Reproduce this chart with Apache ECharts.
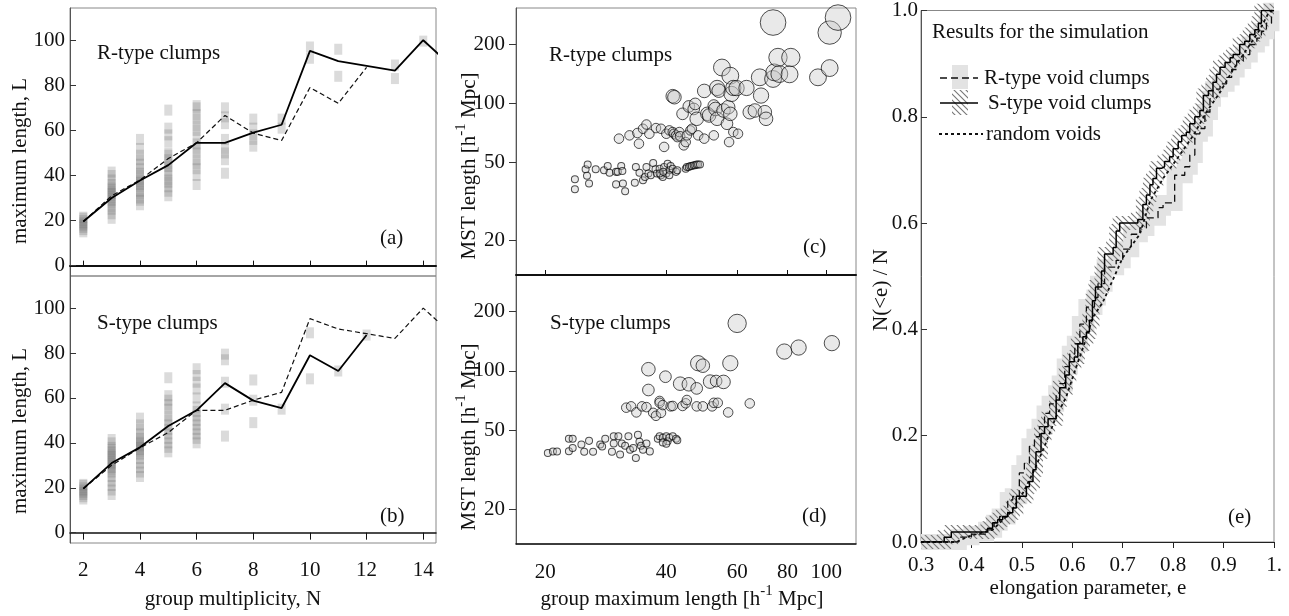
<!DOCTYPE html>
<html>
<head>
<meta charset="utf-8">
<script src="https://cdn.jsdelivr.net/npm/echarts@6/dist/echarts.min.js"></script>
<style>
  html, body { margin: 0; padding: 0; background: #fff; }
  #chart { width: 1289px; height: 616px; }
</style>
</head>
<body>
<div id="chart"></div>
<script>
// ---- panels (a), (b): max length vs multiplicity ----
const multiplicity = [2, 3, 4, 5, 6, 7, 8, 9, 10, 11, 12, 13, 14, 15]
const rTypeMedian = [19.6, 30.0, 37.8, 44.6, 54.5, 54.5, 59.0, 62.5, 95.3, 90.7, 88.6, 86.5, 100, 88.5]
const sTypeMedian = [19.6, 31.0, 38.0, 47.5, 54.5, 66.6, 58.8, 55.5, 79.0, 72.0, 88.0]
const multTicks = [2, 4, 6, 8, 10, 12, 14]
const lengthTicks = [0, 20, 40, 60, 80, 100]

// each group: [multiplicity, max length]
const rGroups = [
  [2, 15], [2, 16], [2, 17], [2, 18], [2, 19], [2, 20], [2, 21], [2, 21.5],
  [3, 21], [3, 23], [3, 25], [3, 26], [3, 28], [3, 29], [3, 30], [3, 31], [3, 32], [3, 33], [3, 34], [3, 35], [3, 36], [3, 38], [3, 40], [3, 41.5],
  [4, 27], [4, 29], [4, 30], [4, 32], [4, 33], [4, 35], [4, 36], [4, 37], [4, 38], [4, 40], [4, 41], [4, 43], [4, 45], [4, 47], [4, 49], [4, 52], [4, 56],
  [5, 31], [5, 33], [5, 35], [5, 37], [5, 38], [5, 40], [5, 42], [5, 44], [5, 45], [5, 47], [5, 49], [5, 50], [5, 55], [5, 58], [5, 61], [5, 69],
  [6, 36], [6, 40], [6, 43], [6, 45], [6, 47], [6, 50], [6, 52], [6, 54], [6, 57], [6, 60], [6, 62], [6, 65], [6, 67], [6, 70], [6, 71],
  [7, 41], [7, 47], [7, 50], [7, 52], [7, 56], [7, 63], [7, 66], [7, 70],
  [8, 53], [8, 56], [8, 58], [8, 61], [8, 65],
  [9, 61], [9, 65],
  [10, 92], [10, 97],
  [11, 84], [11, 96],
  [13, 83], [13, 89],
  [14, 99.6],
]
const sGroups = [
  [2, 15], [2, 16], [2, 17], [2, 18], [2, 19], [2, 20], [2, 21], [2, 21.5],
  [3, 17], [3, 19], [3, 21], [3, 23], [3, 25], [3, 27], [3, 28], [3, 29], [3, 30], [3, 31], [3, 32], [3, 33], [3, 34], [3, 35], [3, 36], [3, 37], [3, 38], [3, 40], [3, 41.5],
  [4, 25], [4, 27], [4, 29], [4, 31], [4, 33], [4, 35], [4, 36], [4, 37], [4, 38], [4, 39], [4, 40], [4, 41], [4, 42], [4, 44], [4, 46], [4, 48], [4, 51],
  [5, 36], [5, 38], [5, 40], [5, 42], [5, 44], [5, 46], [5, 48], [5, 50], [5, 52], [5, 55], [5, 57], [5, 59], [5, 61], [5, 69],
  [6, 40], [6, 42], [6, 44], [6, 46], [6, 48], [6, 50], [6, 52], [6, 54], [6, 56], [6, 60], [6, 64], [6, 67], [6, 70], [6, 73],
  [7, 43], [7, 55], [7, 67], [7, 77], [7, 79.5],
  [8, 49], [8, 59], [8, 68],
  [9, 55],
  [10, 68.5], [10, 89],
  [11, 72],
  [12, 88],
]

// ---- panels (c), (d): MST length vs group max length, [maxLength, mstLength, multiplicity] ----
const rClumps = [
  [23.7, 41.0, 2], [23.7, 36.5, 2], [25.2, 46.1, 2], [25.5, 48.7, 2], [25.4, 42.7, 2], [25.7, 39.0, 2], [26.7, 46.1, 2],
  [28.0, 45.5, 2], [28.6, 47.9, 2], [28.9, 44.3, 2], [30.0, 44.7, 2], [30.3, 44.7, 2], [30.9, 47.9, 2], [31.1, 45.2, 2],
  [31.2, 39.0, 2], [30.0, 38.6, 2], [31.6, 35.6, 2], [33.4, 39.3, 2], [33.6, 47.3, 2], [34.3, 44.3, 2], [35.0, 40.5, 2],
  [35.4, 42.1, 2], [35.7, 47.3, 2], [36.1, 43.8, 2], [36.6, 43.0, 2], [37.1, 49.6, 2], [37.6, 46.1, 2], [37.9, 43.8, 2],
  [38.5, 46.4, 2], [38.8, 43.0, 2], [39.2, 42.1, 2], [39.5, 47.3, 2], [40.0, 43.8, 2], [40.3, 49.2, 2], [40.7, 45.5, 2],
  [41.0, 47.9, 2], [41.5, 46.4, 2], [42.3, 44.7, 2], [42.6, 45.5, 2], [44.7, 46.4, 2], [45.0, 47.3, 2], [45.5, 47.3, 2],
  [45.9, 47.9, 2], [46.3, 47.9, 2], [46.8, 48.3, 2], [47.2, 48.3, 2], [47.6, 48.7, 2], [48.0, 48.7, 2], [48.5, 48.7, 2],
  [38.5, 43.8, 2], [39.3, 44.7, 2], [40.7, 43.0, 2],
  [30.5, 66.0, 3], [32.4, 68.6, 3], [34.2, 62.2, 3], [33.9, 70.5, 3], [35.0, 74.1, 3], [35.7, 77.9, 3], [36.3, 69.9, 3],
  [37.7, 74.7, 3], [38.8, 74.1, 3], [39.5, 59.9, 3], [40.0, 69.9, 3], [40.7, 72.7, 3], [41.5, 71.3, 3], [41.8, 69.9, 3],
  [42.3, 68.6, 3], [42.6, 67.2, 3], [43.1, 71.3, 3], [43.3, 67.9, 3], [44.2, 61.0, 3], [44.7, 63.4, 3], [45.0, 68.6, 3],
  [45.9, 72.7, 3], [46.3, 74.1, 3], [48.0, 68.6, 3], [49.7, 66.0, 3], [52.5, 68.6, 3], [57.3, 63.4, 3], [58.7, 71.3, 3],
  [60.3, 69.9, 3],
  [41.5, 108.6, 5], [41.9, 107.3, 5], [43.9, 88.3, 4], [45.5, 96.3, 4], [46.8, 93.5, 4], [47.2, 99.2, 4], [47.6, 83.3, 5],
  [49.7, 115.5, 5], [50.6, 88.3, 5], [51.1, 86.6, 5], [52.5, 97.3, 4], [53.0, 93.5, 5], [53.5, 119.6, 6], [54.0, 115.9, 5],
  [53.5, 83.3, 5], [55.5, 91.8, 5], [56.6, 78.6, 4], [57.0, 95.4, 5], [57.7, 88.3, 5], [64.5, 90.0, 5], [66.4, 91.8, 5],
  [70.3, 90.0, 5], [70.8, 83.3, 5], [68.8, 109.4, 6],
  [55.0, 152, 7], [57.7, 138.1, 7], [58.1, 111.5, 6], [58.7, 119.6, 6], [59.8, 119.4, 6], [63.3, 119.6, 6], [68.3, 135.5, 7],
  [73.7, 132.9, 7], [74.2, 143.6, 7], [75.8, 171, 8], [76.4, 140.8, 7], [81.6, 171, 8], [81.0, 140.3, 7], [95.3, 135.5, 7],
  [101.9, 151, 7],
  [73.7, 257.6, 14], [101.9, 229, 12], [106.9, 273, 14],
]
const sClumps = [
  [60.0, 173.9, 8], [78.6, 125.3, 6], [85.3, 131.3, 6], [103.2, 138.2, 6], [57.7, 109.4, 6], [48.0, 109.4, 6], [49.3, 106.3, 5],
  [36.1, 102.0, 5], [39.8, 93.5, 4], [36.1, 80.1, 4], [43.3, 86.2, 5], [45.5, 85.6, 5], [47.6, 81.6, 4], [51.4, 88.3, 5],
  [53.2, 88.9, 4], [55.5, 88.0, 5],
  [31.8, 65.2, 3], [32.7, 66.2, 3], [33.7, 61.7, 3], [34.8, 66.2, 3], [35.7, 65.6, 3], [37.1, 61.4, 3], [37.7, 59.3, 3],
  [38.5, 70.5, 3], [38.5, 69.0, 3], [38.8, 61.4, 3], [39.2, 67.2, 3], [41.0, 66.2, 3], [41.5, 66.5, 3], [43.9, 66.5, 3],
  [44.7, 68.6, 3], [45.0, 71.3, 3], [47.6, 66.2, 3], [49.3, 66.2, 3], [52.0, 66.2, 3], [52.5, 69.0, 3], [53.7, 69.0, 3],
  [57.0, 61.7, 3], [64.5, 68.5, 3],
  [20.3, 38.5, 2], [20.9, 39.1, 2], [21.4, 39.1, 2], [22.9, 45.4, 2], [23.4, 45.4, 2], [22.9, 39.3, 2], [23.4, 40.8, 2],
  [24.6, 42.5, 2], [25.0, 39.0, 2], [25.7, 44.3, 2], [26.3, 39.0, 2], [27.4, 42.5, 2], [27.7, 41.5, 2], [28.2, 45.4, 2],
  [29.3, 39.0, 2], [29.6, 43.0, 2], [29.6, 46.8, 2], [30.4, 46.8, 2], [30.7, 37.8, 2], [31.0, 43.0, 2], [31.6, 41.8, 2],
  [32.2, 46.8, 2], [32.5, 40.0, 2], [33.1, 40.8, 2], [33.6, 36.3, 2], [34.0, 47.5, 2], [34.3, 43.9, 2], [34.6, 41.8, 2],
  [35.0, 40.0, 2], [36.4, 39.2, 2], [35.7, 43.0, 2], [38.1, 45.4, 2], [38.5, 46.8, 2], [39.2, 45.9, 2], [40.0, 46.8, 2],
  [40.3, 44.1, 2], [40.7, 45.9, 2], [41.5, 46.8, 2], [42.3, 45.4, 2], [42.6, 44.6, 2], [39.2, 43.5, 2], [40.0, 42.8, 2],
]
const maxLenTicks = [20, 40, 60, 80, 100]
const mstTicks = [20, 50, 100, 200]

// ---- panel (e): cumulative distributions of elongation, [e, N(<e)/N] ----
const rVoidCdf = [
  [0.30, 0], [0.37, 0], [0.375, 0.009], [0.40, 0.015], [0.429, 0.023], [0.445, 0.036], [0.456, 0.048], [0.472, 0.079],
  [0.482, 0.086], [0.495, 0.13], [0.505, 0.148], [0.515, 0.18], [0.525, 0.198], [0.535, 0.217], [0.545, 0.242],
  [0.555, 0.26], [0.568, 0.28], [0.575, 0.298], [0.585, 0.33], [0.595, 0.354], [0.605, 0.373], [0.615, 0.41],
  [0.628, 0.442], [0.644, 0.46], [0.651, 0.486], [0.664, 0.517], [0.687, 0.53], [0.70, 0.551], [0.717, 0.579],
  [0.734, 0.591], [0.747, 0.61], [0.77, 0.629], [0.78, 0.638], [0.803, 0.69], [0.823, 0.706], [0.833, 0.728],
  [0.843, 0.768], [0.853, 0.778], [0.863, 0.809], [0.873, 0.834], [0.879, 0.852], [0.893, 0.862], [0.906, 0.874],
  [0.916, 0.889], [0.926, 0.905], [0.939, 0.917], [0.952, 0.936], [0.966, 0.948], [0.975, 0.961], [0.985, 0.976],
  [0.995, 1.0], [1.0, 1.0],
]
const sVoidCdf = [
  [0.30, 0], [0.346, 0.009], [0.36, 0.019], [0.432, 0.026], [0.442, 0.036], [0.452, 0.042], [0.462, 0.048],
  [0.472, 0.055], [0.482, 0.064], [0.489, 0.086], [0.509, 0.104], [0.515, 0.114], [0.522, 0.136], [0.528, 0.17],
  [0.538, 0.204], [0.545, 0.217], [0.552, 0.232], [0.568, 0.267], [0.575, 0.29], [0.587, 0.314], [0.594, 0.339],
  [0.604, 0.348], [0.611, 0.373], [0.621, 0.386], [0.628, 0.395], [0.634, 0.417], [0.64, 0.454], [0.646, 0.48],
  [0.658, 0.51], [0.664, 0.542], [0.681, 0.554], [0.687, 0.585], [0.694, 0.6], [0.73, 0.607], [0.74, 0.635],
  [0.747, 0.653], [0.754, 0.672], [0.76, 0.684], [0.767, 0.703], [0.777, 0.706], [0.783, 0.716], [0.793, 0.725],
  [0.80, 0.74], [0.81, 0.753], [0.817, 0.765], [0.826, 0.771], [0.833, 0.787], [0.843, 0.80], [0.853, 0.812],
  [0.86, 0.84], [0.87, 0.849], [0.879, 0.865], [0.886, 0.88], [0.893, 0.893], [0.903, 0.902], [0.913, 0.911],
  [0.919, 0.917], [0.932, 0.936], [0.942, 0.942], [0.952, 0.955], [0.962, 0.964], [0.969, 0.976], [0.975, 1.0],
  [1.0, 1.0],
]
const randomVoidCdf = [
  [0.30, 0], [0.37, 0], [0.396, 0.011], [0.442, 0.023], [0.476, 0.054], [0.502, 0.092], [0.522, 0.13], [0.545, 0.18],
  [0.568, 0.236], [0.588, 0.273], [0.608, 0.33], [0.624, 0.373], [0.641, 0.423], [0.66, 0.45], [0.677, 0.486],
  [0.70, 0.535], [0.734, 0.579], [0.754, 0.641], [0.78, 0.684], [0.813, 0.728], [0.84, 0.765], [0.866, 0.809],
  [0.893, 0.846], [0.919, 0.889], [0.946, 0.927], [0.972, 0.964], [0.989, 0.995], [0.995, 1.0], [1.0, 1.0],
]

const FONT = '"Liberation Serif", "DejaVu Serif", serif'
const lg = (v) => Math.log10(v)

// hatch pattern for the S-type band
const hatchCanvas = document.createElement('canvas')
hatchCanvas.width = 6
hatchCanvas.height = 6
const hctx = hatchCanvas.getContext('2d')
hctx.strokeStyle = '#777'
hctx.lineWidth = 1.1
hctx.beginPath()
hctx.moveTo(-1, -1); hctx.lineTo(7, 7)
hctx.moveTo(-4, 2); hctx.lineTo(4, 10)
hctx.moveTo(2, -4); hctx.lineTo(10, 4)
hctx.stroke()
const hatch = { image: hatchCanvas, repeat: 'repeat' }

const label = (extra) => Object.assign({ fontFamily: FONT, fontSize: 21, color: '#111' }, extra)
const pairs = (xs, ys) => ys.map((y, i) => [xs[i], y])

// axis builders
function multAxis(grid, showLabel) {
  return {
    type: 'value', gridIndex: grid, min: 1.53, max: 14.45,
    axisLine: { lineStyle: { color: '#111', width: showLabel ? 1.5 : 2 } },
    axisTick: { customValues: multTicks, inside: !showLabel, length: showLabel ? 7 : 5, lineStyle: { color: '#111' } },
    axisLabel: label({ show: showLabel, customValues: multTicks, margin: 17 }),
    splitLine: { show: false },
  }
}
function lengthAxis(grid) {
  return {
    type: 'value', gridIndex: grid, min: -4.6, max: 114.3,
    axisLine: { lineStyle: { color: '#555' } },
    axisTick: { customValues: lengthTicks, inside: true, length: 6, lineStyle: { color: '#333' } },
    axisLabel: label({ customValues: lengthTicks, margin: 5 }),
    splitLine: { show: false },
  }
}
function maxLenAxis(grid, showLabel) {
  return {
    type: 'value', gridIndex: grid, min: 1.2283, max: 2.0737,
    axisLine: { lineStyle: { color: '#111', width: showLabel ? 1.5 : 2 } },
    axisTick: { show: !showLabel, customValues: maxLenTicks.map(lg), inside: true, length: 5, lineStyle: { color: '#111' } },
    axisLabel: label({ show: showLabel, customValues: maxLenTicks.map(lg), margin: 18,
      formatter: (v) => String(Math.round(Math.pow(10, v))) }),
    splitLine: { show: false },
  }
}
function mstAxis(grid) {
  return {
    type: 'value', gridIndex: grid, min: 1.125, max: 2.485,
    axisLine: { lineStyle: { color: '#555' } },
    axisTick: { customValues: mstTicks.map(lg), length: 7, lineStyle: { color: '#333' } },
    axisLabel: label({ customValues: mstTicks.map(lg), margin: 11,
      formatter: (v) => String(Math.round(Math.pow(10, v))) }),
    splitLine: { show: false },
  }
}

const squares = (data, x, y) => ({
  type: 'scatter', xAxisIndex: x, yAxisIndex: y, data: data,
  symbol: 'rect', symbolSize: [8, 11], silent: true,
  itemStyle: { color: 'rgba(105,105,105,0.3)' },
})
const medianLine = (data, x, y, dashed) => ({
  type: 'line', xAxisIndex: x, yAxisIndex: y, data: data, symbol: 'none', silent: true,
  lineStyle: dashed ? { color: '#111', width: 1.2, type: [5, 3] } : { color: '#000', width: 1.8 },
})
const bubbles = (data, x, y) => ({
  type: 'scatter', xAxisIndex: x, yAxisIndex: y, silent: true,
  data: data.map((d) => [lg(d[0]), lg(d[1]), d[2]]),
  symbol: 'circle',
  symbolSize: (v) => 8 * Math.sqrt(v[2]) - 4.3,
  itemStyle: { color: 'rgba(200,200,200,0.5)', borderColor: 'rgba(0,0,0,0.85)', borderWidth: 1 },
})
const cdfLine = (data, step, style) => ({
  type: 'line', xAxisIndex: 4, yAxisIndex: 4, data: data, step: step, symbol: 'none', silent: true,
  lineStyle: style,
})

function text(str, x, y, extra) {
  return Object.assign({
    type: 'text', x: x, y: y, silent: true,
    style: Object.assign({ text: str, font: '21px ' + FONT, fill: '#111', align: 'left', verticalAlign: 'middle' },
      extra && extra.style),
  }, extra && extra.rotation ? { rotation: extra.rotation } : {})
}
const supRich = { sup: { fontFamily: FONT, fontSize: 15, lineHeight: 20, verticalAlign: 'top', fill: '#111' } }
const supStyle = (align) => ({ align: align, lineHeight: 30, rich: supRich })
const vertical = { rotation: Math.PI / 2, style: { align: 'center' } }

const option = {
  animation: false,
  backgroundColor: '#fff',
  textStyle: { fontFamily: FONT },
  grid: [
    { left: 70, top: 8, width: 366, height: 268 },
    { left: 70, top: 276, width: 366, height: 267 },
    { left: 516, top: 8, width: 340, height: 267 },
    { left: 516, top: 275, width: 340, height: 269 },
    { left: 921, top: 7, width: 353, height: 535 },
  ].map((g) => Object.assign({ show: true, borderColor: '#888', borderWidth: 1 }, g)),
  xAxis: [
    multAxis(0, false),
    multAxis(1, true),
    maxLenAxis(2, false),
    maxLenAxis(3, true),
    {
      type: 'value', gridIndex: 4, min: 0.3, max: 1.0, interval: 0.1,
      axisLine: { lineStyle: { color: '#222' } },
      axisTick: { length: 6, lineStyle: { color: '#222' } },
      axisLabel: label({ margin: 13, formatter: (v) => (v > 0.99 ? '1.' : v.toFixed(1)) }),
      splitLine: { show: false },
    },
  ],
  yAxis: [
    lengthAxis(0),
    lengthAxis(1),
    mstAxis(2),
    mstAxis(3),
    {
      type: 'value', gridIndex: 4, min: 0, max: 1, interval: 0.2,
      axisLine: { lineStyle: { color: '#555' } },
      axisTick: { inside: true, length: 6, lineStyle: { color: '#333' } },
      axisLabel: label({ margin: 3, formatter: (v) => v.toFixed(1) }),
      splitLine: { show: false },
    },
  ],
  series: [
    // (a) R-type
    squares(rGroups, 0, 0),
    medianLine(pairs(multiplicity, sTypeMedian), 0, 0, true),
    medianLine(pairs(multiplicity, rTypeMedian), 0, 0, false),
    // (b) S-type
    squares(sGroups, 1, 1),
    medianLine(pairs(multiplicity, rTypeMedian), 1, 1, true),
    medianLine(pairs(multiplicity, sTypeMedian), 1, 1, false),
    // (c), (d)
    bubbles(rClumps, 2, 2),
    bubbles(sClumps, 3, 3),
    // (e) bands then curves
    cdfLine(rVoidCdf, 'end', { color: '#e3e3e3', width: 16, join: 'miter', cap: 'butt' }),
    cdfLine(sVoidCdf, 'end', { color: hatch, width: 14, join: 'miter', cap: 'butt' }),
    cdfLine(randomVoidCdf, false, { color: '#111', width: 1.8, type: [3, 3] }),
    cdfLine(rVoidCdf, 'end', { color: '#111', width: 1.3, type: [7, 4] }),
    cdfLine(sVoidCdf, 'end', { color: '#000', width: 1.5 }),
  ],
  graphic: [
    text('R-type clumps', 97, 53),
    text('(a)', 380, 238),
    text('S-type clumps', 97, 323),
    text('(b)', 380, 516),
    text('R-type clumps', 549, 55),
    text('(c)', 803, 247),
    text('S-type clumps', 550, 323),
    text('(d)', 802, 516),
    text('(e)', 1228, 517),
    text('maximum length, L', 20, 161, vertical),
    text('maximum length, L', 20, 431, vertical),
    text('MST length [h{sup|-1} Mpc]', 469, 166, { rotation: Math.PI / 2, style: supStyle('center') }),
    text('MST length [h{sup|-1} Mpc]', 469, 437, { rotation: Math.PI / 2, style: supStyle('center') }),
    text('N(<e) / N', 881, 290, vertical),
    text('group multiplicity, N', 233, 599, { style: { align: 'center' } }),
    text('group maximum length [h{sup|-1} Mpc]', 682, 599, { style: supStyle('center') }),
    text('elongation parameter, e', 1088, 588, { style: { align: 'center' } }),
    // legend of (e)
    text('Results for the simulation', 932, 32),
    { type: 'rect', silent: true, shape: { x: 952, y: 65, width: 16, height: 24 }, style: { fill: '#e3e3e3' } },
    { type: 'line', silent: true, shape: { x1: 940, y1: 78, x2: 978, y2: 78 }, style: { stroke: '#111', lineWidth: 1.3, lineDash: [7, 4] } },
    text('R-type void clumps', 984, 78),
    { type: 'rect', silent: true, shape: { x: 952, y: 90, width: 16, height: 25 }, style: { fill: hatch } },
    { type: 'line', silent: true, shape: { x1: 940, y1: 103, x2: 978, y2: 103 }, style: { stroke: '#000', lineWidth: 1.5 } },
    text('S-type void clumps', 988, 103),
    { type: 'line', silent: true, shape: { x1: 939, y1: 134, x2: 983, y2: 134 }, style: { stroke: '#111', lineWidth: 1.8, lineDash: [3, 3] } },
    text('random voids', 986, 134),
  ],
}

echarts.init(document.getElementById('chart')).setOption(option)
</script>
</body>
</html>
